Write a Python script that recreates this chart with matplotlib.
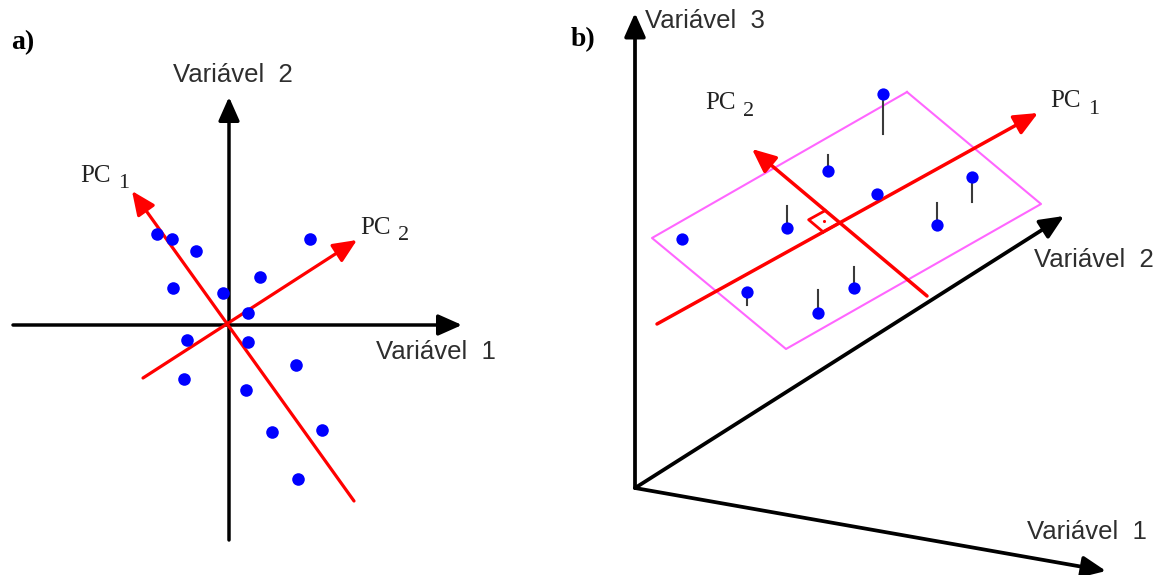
import numpy as np
import matplotlib
matplotlib.use("Agg")
import matplotlib.pyplot as plt

# everything is in picture pixels (x right, y down)
W, H = 1173, 575

# ---- panel a) ----
a_origin = (229, 325)
a_var1 = [(13, 325), (462, 325)]
a_var2 = [(229, 540), (229, 97)]
a_pc1 = [(354, 501), (132, 191)]
a_pc2 = [(143, 378), (357, 240)]
a_x = [157, 172, 196, 310, 260, 173, 223, 248, 187, 248, 184, 296, 246, 272, 322, 298]
a_y = [234, 239, 251, 239, 277, 288, 293, 313, 340, 342, 379, 365, 390, 432, 430, 479]

# ---- panel b) ----
b_origin = (635, 488)
b_var1 = (1106, 571)
b_var2 = (1064, 216)
b_var3 = (635, 13)
b_plane = [(907, 92), (1041, 204), (786, 349), (652, 238)]
b_pc1 = [(657, 324), (1038, 113)]
b_pc2 = [(927, 296), (752, 149)]
b_x = [883, 828, 877, 972, 787, 937, 682, 747, 818, 854]
b_y = [94, 171, 194, 177, 228, 225, 239, 292, 313, 288]
b_stem = [134, 155, 194, 202, 206, 203, 239, 305, 290, 267]

RED = "#ff0000"
BLUE = "#0000ff"
PINK = "#ff66ff"
TXT = "#2e2e2e"
SANS = "Liberation Sans"
SERIF = "Liberation Serif"

fig = plt.figure(figsize=(W / 100, H / 100), dpi=100)
ax = fig.add_axes([0, 0, 1, 1])
ax.set_xlim(0, W)
ax.set_ylim(H, 0)
ax.axis("off")


def arrow(p0, p1, color, lw, hl=0.9, hw=0.4):
    ax.annotate("", xy=p1, xytext=p0,
                arrowprops=dict(arrowstyle="-|>,head_length=%s,head_width=%s" % (hl, hw),
                                color=color, lw=lw, shrinkA=0, shrinkB=0,
                                mutation_scale=16))


def pc_label(x, y, sub):
    ax.text(x, y, "PC", family=SERIF, fontsize=18, color="#222222", va="center", ha="left")
    ax.text(x + 38, y + 8, sub, family=SERIF, fontsize=16, color="#222222", va="center", ha="left")


# panel a
arrow(a_var1[0], a_var1[1], "black", 2.5)
arrow(a_var2[0], a_var2[1], "black", 2.5)
arrow(a_pc1[0], a_pc1[1], RED, 2.3)
arrow(a_pc2[0], a_pc2[1], RED, 2.3)
ax.scatter(a_x, a_y, s=82, color=BLUE, zorder=5, linewidths=0)

ax.text(11, 43, "a)", family=SERIF, fontsize=20, fontweight="bold", va="center", ha="left")
ax.text(233, 75, "Variável  2", family=SANS, fontsize=18.5, color=TXT, va="center", ha="center")
ax.text(376, 352, "Variável  1", family=SANS, fontsize=18.5, color=TXT, va="center", ha="left")
pc_label(80, 176, "1")
pc_label(360, 228, "2")

# panel b
arrow(b_origin, b_var3, "black", 2.7)
arrow(b_origin, b_var2, "black", 2.7)
arrow(b_origin, b_var1, "black", 2.7)

px = [p[0] for p in b_plane] + [b_plane[0][0]]
py = [p[1] for p in b_plane] + [b_plane[0][1]]
ax.plot(px, py, color=PINK, lw=1.5)

arrow(b_pc1[0], b_pc1[1], RED, 2.5)
arrow(b_pc2[0], b_pc2[1], RED, 2.5)

# right-angle mark where the two components cross
p = np.array(b_pc1[0], float)
r = np.array(b_pc1[1], float) - p
q = np.array(b_pc2[0], float)
s = np.array(b_pc2[1], float) - q
t = np.cross(q - p, s) / np.cross(r, s)
c = p + t * r
u = -r / np.linalg.norm(r)
v = s / np.linalg.norm(s)
side = 19
sq = np.array([c, c + side * u, c + side * (u + v), c + side * v])
ax.plot(sq[1:, 0], sq[1:, 1], color=RED, lw=2.0)
ax.plot([sq[1, 0], sq[0, 0]], [sq[1, 1], sq[0, 1]], color=RED, lw=2.0)
m = c + side * 0.5 * (u + v)
ax.scatter([m[0]], [m[1]], s=5, color=RED, zorder=6, linewidths=0)

for x, y, e in zip(b_x, b_y, b_stem):
    if e != y:
        ax.plot([x, x], [y, e], color="#3a3a3a", lw=1.5, zorder=4)
ax.scatter(b_x, b_y, s=78, color=BLUE, zorder=5, linewidths=0)

ax.text(571, 40, "b)", family=SERIF, fontsize=20, fontweight="bold", va="center", ha="left")
ax.text(645, 21, "Variável  3", family=SANS, fontsize=18.5, color=TXT, va="center", ha="left")
ax.text(1034, 260, "Variável  2", family=SANS, fontsize=18.5, color=TXT, va="center", ha="left")
ax.text(1027, 532, "Variável  1", family=SANS, fontsize=18.5, color=TXT, va="center", ha="left")
pc_label(705, 103, "2")
pc_label(1050, 101, "1")

fig.savefig("out.png", dpi=100)
